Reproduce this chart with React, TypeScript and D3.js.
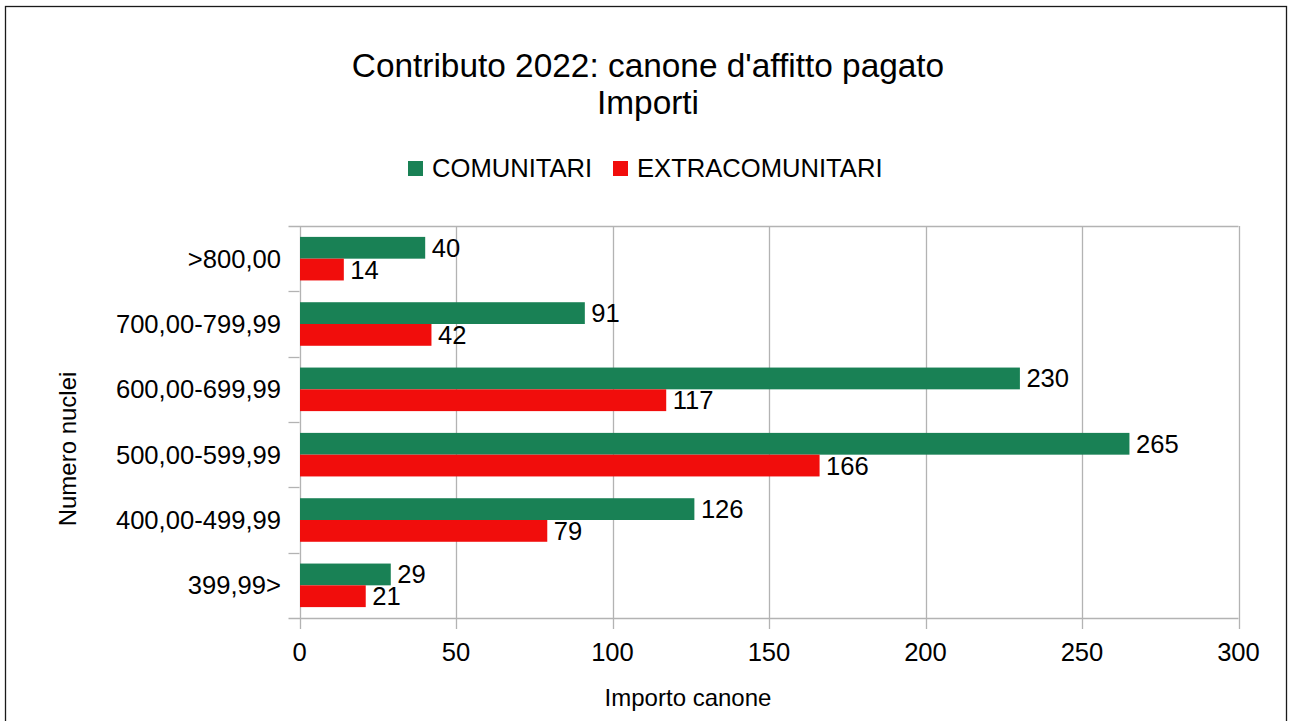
import React, { useEffect, useRef } from "react";
import * as d3 from "d3";

const width = 1289;
const height = 721;

const categories = [
  ">800,00",
  "700,00-799,99",
  "600,00-699,99",
  "500,00-599,99",
  "400,00-499,99",
  "399,99>",
];
const comunitari = [40, 91, 230, 265, 126, 29];
const extracomunitari = [14, 42, 117, 166, 79, 21];
const xTicks = [0, 50, 100, 150, 200, 250, 300];

const seriesData = [
  { name: "COMUNITARI", color: "#198155", values: comunitari },
  { name: "EXTRACOMUNITARI", color: "#f10d0c", values: extracomunitari },
];

const FONT = "'Liberation Sans', Arial, sans-serif";

const App = () => {
  const chart = useRef<SVGSVGElement>(null);

  useEffect(() => {
    const svg = d3.select(chart.current);
    svg.selectAll("*").remove();

    const left = 299.5;
    const right = 1238.5;
    const top = 226;
    const bottom = 618;

    const x = d3.scaleLinear().domain([0, 300]).range([left, right]);
    const y = d3.scaleBand().domain(categories).range([top, bottom]);
    const inner = d3
      .scaleBand()
      .domain(seriesData.map((s) => s.name))
      .range([y.bandwidth() / 6, (y.bandwidth() * 5) / 6]);

    // outer frame
    svg
      .append("rect")
      .attr("x", 5.5)
      .attr("y", 6.5)
      .attr("width", 1281)
      .attr("height", 730)
      .attr("fill", "white")
      .attr("stroke", "#1a1a1a")
      .attr("stroke-width", 1.3);

    // vertical grid + ticks
    svg
      .append("g")
      .selectAll("line")
      .data(xTicks)
      .join("line")
      .attr("x1", (d) => Math.round(x(d)) + 0.5)
      .attr("x2", (d) => Math.round(x(d)) + 0.5)
      .attr("y1", top)
      .attr("y2", bottom + 11)
      .attr("stroke", "#b3b3b3")
      .attr("stroke-width", 1.3);

    // horizontal boundary lines and category ticks
    const bounds = categories.map((c) => y(c) as number).concat([bottom]);
    svg
      .append("g")
      .selectAll("line")
      .data(bounds)
      .join("line")
      .attr("x1", left - 11)
      .attr("x2", (d, i) => (i === 0 || i === bounds.length - 1 ? right : left))
      .attr("y1", (d) => Math.round(d) + 0.5)
      .attr("y2", (d) => Math.round(d) + 0.5)
      .attr("stroke", "#b3b3b3")
      .attr("stroke-width", 1.3);

    // bars
    seriesData.forEach((s) => {
      const g = svg.append("g");
      g.selectAll("rect")
        .data(s.values)
        .join("rect")
        .attr("x", x(0) + 0.5)
        .attr("y", (d, i) => (y(categories[i]) as number) + (inner(s.name) as number))
        .attr("width", (d) => x(d) - x(0))
        .attr("height", inner.bandwidth())
        .attr("fill", s.color);

      g.selectAll("text")
        .data(s.values)
        .join("text")
        .text((d) => d)
        .attr("x", (d) => x(d) + 7)
        .attr(
          "y",
          (d, i) =>
            (y(categories[i]) as number) +
            (inner(s.name) as number) +
            inner.bandwidth() / 2
        )
        .attr("dy", "0.35em")
        .attr("font-size", 25.6)
        .attr("font-family", FONT)
        .attr("fill", "#000");
    });

    // x tick labels
    svg
      .append("g")
      .selectAll("text")
      .data(xTicks)
      .join("text")
      .text((d) => d)
      .attr("x", (d) => x(d))
      .attr("y", 652)
      .attr("dy", "0.35em")
      .attr("text-anchor", "middle")
      .attr("font-size", 25.6)
      .attr("font-family", FONT);

    // category labels
    svg
      .append("g")
      .selectAll("text")
      .data(categories)
      .join("text")
      .text((d) => d)
      .attr("x", 281)
      .attr("y", (d) => (y(d) as number) + y.bandwidth() / 2)
      .attr("dy", "0.35em")
      .attr("text-anchor", "end")
      .attr("font-size", 25.6)
      .attr("font-family", FONT);

    // titles
    const title = svg
      .append("g")
      .attr("font-family", FONT)
      .attr("font-size", 33.4)
      .attr("text-anchor", "middle");
    title.append("text").text("Contributo 2022: canone d'affitto pagato").attr("x", 648).attr("y", 65).attr("dy", "0.35em");
    title.append("text").text("Importi").attr("x", 648).attr("y", 102).attr("dy", "0.35em");

    // axis titles
    svg
      .append("text")
      .text("Importo canone")
      .attr("x", 688)
      .attr("y", 698)
      .attr("dy", "0.35em")
      .attr("text-anchor", "middle")
      .attr("font-size", 24)
      .attr("font-family", FONT);
    svg
      .append("text")
      .text("Numero nuclei")
      .attr("transform", "translate(68,449) rotate(-90)")
      .attr("dy", "0.35em")
      .attr("text-anchor", "middle")
      .attr("font-size", 24)
      .attr("font-family", FONT);

    // legend
    const legendX = [408, 613];
    const legend = svg
      .append("g")
      .selectAll("g")
      .data(seriesData)
      .join("g")
      .attr("transform", (d, i) => `translate(${legendX[i]},161)`);
    legend
      .append("rect")
      .attr("width", 15)
      .attr("height", 15)
      .attr("fill", (d) => d.color);
    legend
      .append("text")
      .text((d) => d.name)
      .attr("x", 24)
      .attr("y", 7.5)
      .attr("dy", "0.35em")
      .attr("font-size", 25.6)
      .attr("font-family", FONT);
  }, []);

  return (
    <svg
      ref={chart}
      width={width}
      height={height}
      style={{ position: "absolute", left: 0, top: 0, background: "white" }}
    ></svg>
  );
};

export default App;
